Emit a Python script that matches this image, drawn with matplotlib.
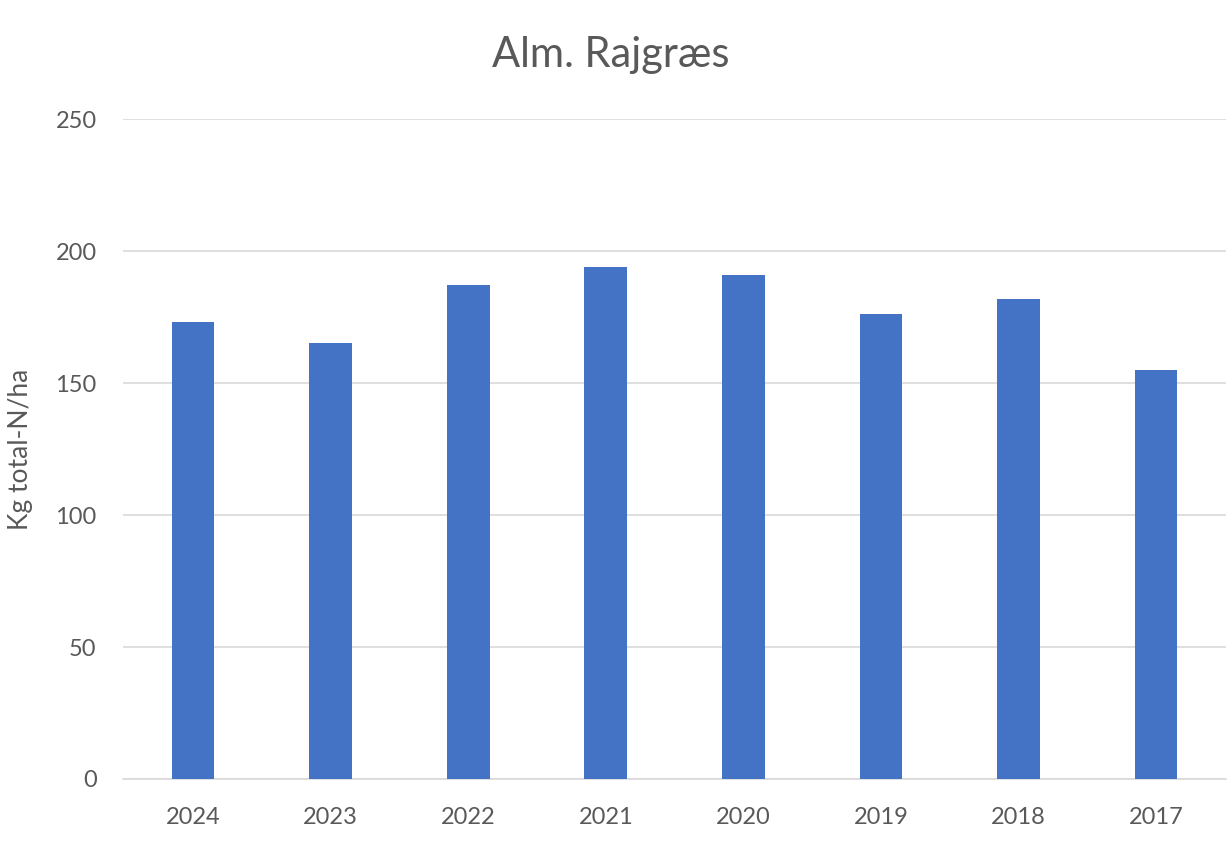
import matplotlib

matplotlib.use("Agg")
import matplotlib.pyplot as plt

years = ["2024", "2023", "2022", "2021", "2020", "2019", "2018", "2017"]
total_n = [173, 165, 187, 194, 191, 176, 182, 155]
y_ticks = [0, 50, 100, 150, 200, 250]

BAR_COLOR = "#4472C4"
TEXT_COLOR = "#595959"
GRID_COLOR = "#D9D9D9"

plt.rcParams["font.family"] = ["Lato", "DejaVu Sans"]

fig = plt.figure(figsize=(12.29, 8.46), dpi=100)
ax = fig.add_axes([0.1001, 0.0792, 0.8975, 0.7801])

xs = list(range(len(years)))
ax.bar(xs, total_n, width=0.31, color=BAR_COLOR, zorder=3)

ax.set_xlim(-0.51, len(years) - 0.49)
ax.set_ylim(0, 250)
ax.set_yticks(y_ticks)
ax.set_xticks(xs, years)
ax.grid(axis="y", color=GRID_COLOR, linewidth=1.2, zorder=0)

for side in ("top", "right", "left"):
    ax.spines[side].set_visible(False)
ax.spines["bottom"].set_color(GRID_COLOR)
ax.spines["bottom"].set_linewidth(1.2)
ax.tick_params(axis="both", length=0, labelsize=17, colors=TEXT_COLOR)
ax.tick_params(axis="x", pad=20)
ax.tick_params(axis="y", pad=19)

ax.set_ylabel("Kg total-N/ha", fontsize=19, color=TEXT_COLOR)
ax.yaxis.set_label_coords(-0.0816, 0.5)
fig.suptitle("Alm. Rajgræs", x=0.497, y=0.957, fontsize=30, color=TEXT_COLOR)

fig.savefig("out.png", dpi=100, facecolor="white")
